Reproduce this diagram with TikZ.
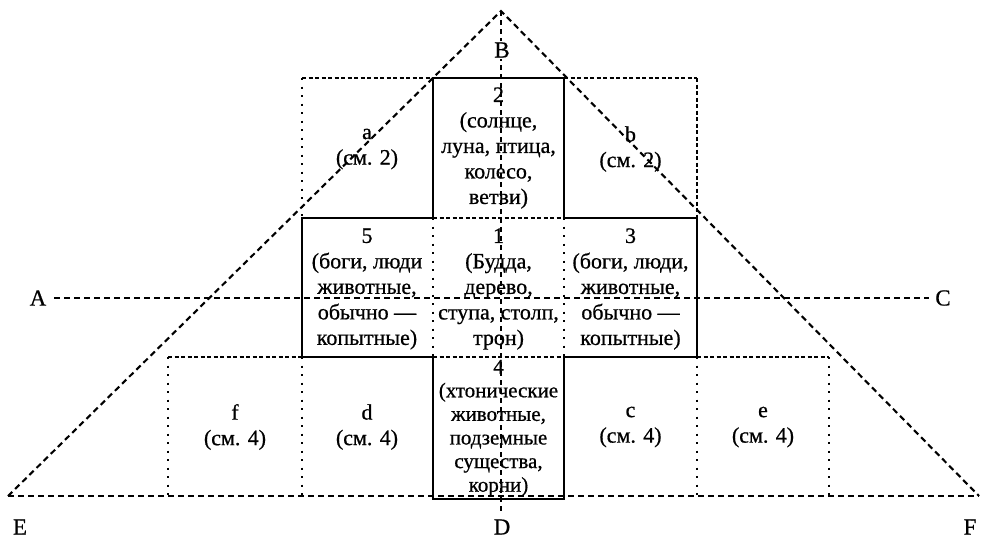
\documentclass[tikz,border=0pt]{standalone}
\usepackage{fontspec}
\setmainfont{Liberation Serif}[FakeBold=0.7]
\begin{document}
\begin{tikzpicture}[x=1pt,y=-1pt,
  solidline/.style={line width=2.8pt, line cap=rect},
  dashline/.style={line width=2.1pt, dash pattern=on 6pt off 4pt},
  fineline/.style={line width=1.6pt, dash pattern=on 4pt off 2.5pt},
  dotline/.style={line width=2.6pt, dash pattern=on 2pt off 6.5pt},
  cell/.style={align=center, font=\fontsize{22}{25.5}\selectfont, inner sep=0pt},
  lbl/.style={font=\fontsize{23}{25}\selectfont, inner sep=1pt}]
\useasboundingbox (0,0) rectangle (981,539);

% key coordinates
\coordinate (apex) at (501,11);
\coordinate (E0) at (8,496);
\coordinate (F0) at (979,496);
\coordinate (Dend) at (501,513);
\coordinate (Aend) at (54,298);
\coordinate (Cend) at (929,298);

% grid corners
\coordinate (t1) at (302,78);  \coordinate (t2) at (433,78);
\coordinate (t3) at (564,78);  \coordinate (t4) at (697,78);
\coordinate (m1) at (302,218); \coordinate (m2) at (433,218);
\coordinate (m3) at (564,218); \coordinate (m4) at (697,218);
\coordinate (b0) at (168,357); \coordinate (b1) at (302,357);
\coordinate (b2) at (433,357); \coordinate (b3) at (564,357);
\coordinate (b4) at (697,357); \coordinate (b5) at (829,357);
\coordinate (g0) at (168,496); \coordinate (g1) at (302,496);
\coordinate (g4) at (697,496); \coordinate (g5) at (829,496);
\coordinate (g2) at (433,499); \coordinate (g3) at (564,499);

% top row: a and b (dotted/dashed), 2 (solid)
\draw[fineline] (t1) -- (t2);
\draw[fineline] (t3) -- (t4);
\draw[dotline] (t1) -- (m1);
\draw[fineline] (t4) -- (m4);
\draw[solidline] (m2) -- (t2) -- (t3) -- (m3);

% middle row
\draw[solidline] (m2) -- (m1) -- (b1) -- (b2);
\draw[solidline] (m3) -- (m4) -- (b4) -- (b3);
\draw[fineline] (m2) -- (m3);
\draw[fineline] (b2) -- (b3);
\draw[dotline] (m2) -- (b2);
\draw[dotline] (m3) -- (b3);

% bottom row
\draw[fineline] (b0) -- (b1);
\draw[fineline] (b4) -- (b5);
\draw[dotline] (b0) -- (g0);
\draw[dotline] (b1) -- (g1);
\draw[dotline] (b4) -- (g4);
\draw[dotline] (b5) -- (g5);
\draw[solidline] (b2) -- (g2) -- (g3) -- (b3);

% triangle and axes
\draw[dashline] (E0) -- (apex) -- (F0);
\draw[dashline] (E0) -- (F0);
\draw[dashline] (Aend) -- (Cend);
\draw[dashline, dash pattern=on 5pt off 4pt] (apex) -- (Dend);

% labels
\node[lbl, fill=white] (B) at (502,50) {B};
\node[lbl] (A) at (38,298) {A};
\node[lbl] (C) at (943,298) {C};
\node[lbl] (E) at (20,527) {E};
\node[lbl] (D) at (502,527) {D};
\node[lbl] (F) at (970,527) {F};

% cell texts
\node[cell] (ca) at (367,149) {a\\(см. 2)};
\node[cell] (c2) at (498.5,148) {2\\(солнце,\\луна, птица,\\колесо,\\ветви)};
\node[cell] (cb) at (630.5,149) {b\\(см. 2)};
\node[cell] (c5) at (367,289) {5\\(боги, люди\\животные,\\обычно —\\копытные)};
\node[cell] (c1) at (498.5,289) {1\\(Будда,\\дерево,\\ступа, столп,\\трон)};
\node[cell] (c3) at (630.5,289) {3\\(боги, люди,\\животные,\\обычно —\\копытные)};
\node[cell] (cf) at (235,427) {f\\(см. 4)};
\node[cell] (cd) at (367,427) {d\\(см. 4)};
\node[cell, font=\fontsize{21}{23.6}\selectfont] (c4) at (498.5,428) {4\\(хтонические\\животные,\\подземные\\существа,\\корни)};
\node[cell] (cc) at (630.5,427) {c\\(см. 4)};
\node[cell] (ce) at (763,427) {e\\(см. 4)};
\end{tikzpicture}
\end{document}
